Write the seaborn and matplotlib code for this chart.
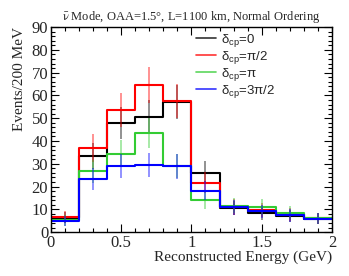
import numpy as np
import seaborn as sns
import matplotlib
matplotlib.use("Agg")
import matplotlib.pyplot as plt
from matplotlib.ticker import MultipleLocator

# bin edges (GeV) and event counts per 200 MeV bin
edges = [0.0, 0.2, 0.4, 0.6, 0.8, 1.0, 1.2, 1.4, 1.6, 1.8, 2.0]
centers = [0.1, 0.3, 0.5, 0.7, 0.9, 1.1, 1.3, 1.5, 1.7, 1.9]
dcp_0 = [6.3, 33.5, 48.0, 50.7, 57.1, 26.1, 10.6, 8.4, 6.9, 5.9]
dcp_pi2 = [6.6, 37.0, 53.6, 64.6, 57.6, 21.7, 11.0, 9.5, 7.8, 6.0]
dcp_pi = [5.1, 26.7, 34.5, 43.3, 29.1, 14.0, 11.6, 11.0, 8.5, 6.0]
dcp_3pi2 = [4.8, 23.5, 29.1, 29.4, 28.9, 18.2, 10.9, 9.1, 7.3, 5.9]

series = [
    (dcp_0, "black", r"$\delta_{cp}$=0"),
    (dcp_pi2, "#ff0000", r"$\delta_{cp}$=$\pi$/2"),
    (dcp_pi, "#33cc33", r"$\delta_{cp}$=$\pi$"),
    (dcp_3pi2, "#0000ff", r"$\delta_{cp}$=3$\pi$/2"),
]

sns.set_theme(style="ticks")
plt.rcParams["font.family"] = ["Liberation Serif", "DejaVu Serif"]
# custom mathtext (used by the legend) is upright Liberation Sans
plt.rcParams["mathtext.fontset"] = "custom"
plt.rcParams["mathtext.rm"] = "Liberation Sans"
plt.rcParams["mathtext.it"] = "Liberation Sans"
plt.rcParams["mathtext.default"] = "rm"

fig = plt.figure(figsize=(3.49, 2.76), dpi=100)
ax = fig.add_axes([0.146, 0.159, 0.805, 0.743])

handles = []
for vals, col, lab in series:
    sns.histplot(x=centers, weights=vals, bins=edges, element="step",
                 fill=False, color=col, linewidth=1.5, ax=ax)
    ax.errorbar(centers, vals, yerr=np.sqrt(vals), fmt="none",
                ecolor=col, elinewidth=1.2, alpha=0.5)
    handles.append(plt.Line2D([], [], color=col, lw=1.2, alpha=0.8, label=lab))

ax.set_xlim(0, 2)
ax.set_ylim(0, 90)
ax.xaxis.set_major_locator(MultipleLocator(0.5))
ax.xaxis.set_minor_locator(MultipleLocator(0.1))
ax.yaxis.set_major_locator(MultipleLocator(10))
ax.yaxis.set_minor_locator(MultipleLocator(2))
ax.xaxis.set_major_formatter(plt.FuncFormatter(lambda v, p: f"{v:g}"))
ax.tick_params(which="both", direction="in", top=True, right=True,
               labelsize=12, color="black", width=0.8, pad=2)
ax.tick_params(which="major", length=6)
ax.tick_params(which="minor", length=3)
for s in ax.spines.values():
    s.set_linewidth(1.0)
    s.set_color("black")

ax.set_xlabel("Reconstructed Energy (GeV)", fontsize=11, loc="right", labelpad=0)
ax.set_ylabel("Events/200 MeV", fontsize=11, loc="top")
ax.set_title(r"$\bar{\nu}$ Mode, OAA=1.5°, L=1100 km, Normal Ordering",
             fontsize=9, pad=5, math_fontfamily="stix")

leg = ax.legend(handles=handles, loc="upper left", bbox_to_anchor=(0.516, 0.975),
                frameon=False, handlelength=1.5, labelspacing=0.0,
                handletextpad=0.4, borderpad=0, borderaxespad=0,
                prop={"family": "Liberation Sans", "size": 9.5})

fig.savefig("out.png", dpi=100)
